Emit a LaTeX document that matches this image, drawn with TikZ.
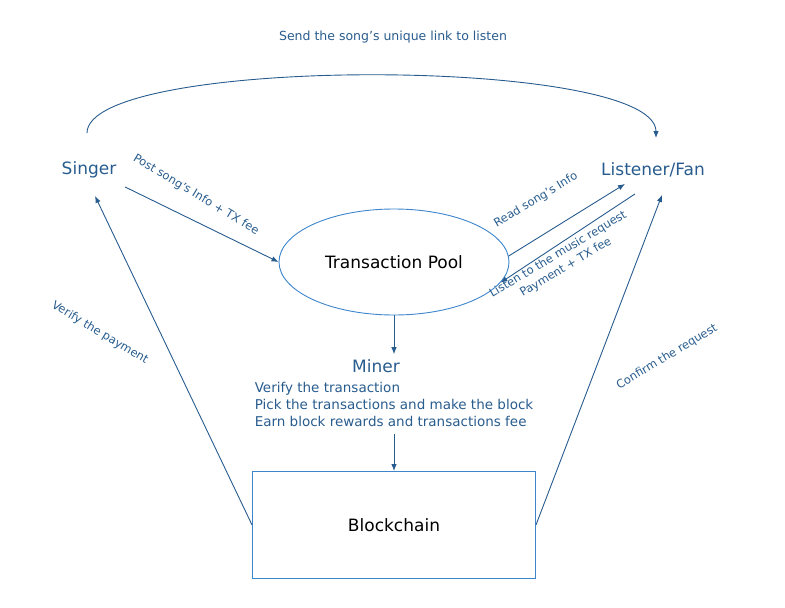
\documentclass[tikz,border=0pt]{standalone}
\usepackage{fontspec}
\setmainfont{DejaVu Sans}
\usetikzlibrary{arrows.meta,positioning,shapes.geometric,calc}
\definecolor{flowblue}{RGB}{40,92,142}
\definecolor{boxblue}{RGB}{62,134,204}
\tikzset{
  post/.style={->,>={Latex[length=7pt,width=5.5pt]},flowblue,line width=0.9pt},
}

\begin{document}
\begin{tikzpicture}[x=1pt,y=-1pt,
    actor/.style={inner sep=0pt,text=flowblue,font=\fontsize{17}{20}\selectfont},
    store/.style={draw=boxblue,line width=0.9pt,inner sep=0pt,font=\fontsize{17}{20}\selectfont},
    tasklist/.style={inner sep=0pt,align=left,text=flowblue,font=\fontsize{13.5}{17}\selectfont},
    edgetext/.style={inner sep=0pt,align=center,text=flowblue,font=\fontsize{11.5}{15}\selectfont},]
  \useasboundingbox (0,0) rectangle (785,608);

  \node[actor] (singer) at (89,170) {Singer};
  \node[actor] (fan) at (653,170) {Listener/Fan};
  \node[store, ellipse, minimum width=230, minimum height=106] (pool) at (394,262) {Transaction Pool};
  \node[actor] (miner) at (376,366) {Miner};
  \node[tasklist] (tasks) at (394,404) {Verify the transaction\\
    Pick the transactions and make the block\\Earn block rewards and transactions fee};
  \node[store, rectangle, minimum width=283, minimum height=107] (chain) at (394,525) {Blockchain};

  % song link goes straight to the fan
  \draw[post] ([shift={(-2,-28.5)}]singer.north) .. controls +(0,-78) and +(0,-82) ..
    ([shift={(3,-24.5)}]fan.north);
  \node[edgetext, font=\fontsize{12.5}{15}\selectfont] (sendlink) at (393,37) {Send the song's unique link to listen};

  \draw[post] ([shift={(36,8.5)}]singer.south) -- (pool.west);
  \draw[post] (pool.3) -- ([shift={(-28,6.5)}]fan.south);
  \draw[post] ([shift={(-18,16.5)}]fan.south) -- (pool.-11);
  \draw[post] (pool.south) -- ([shift={(0,-5)}]miner.north -| pool.south);
  \draw[post] ([shift={(0,8)}]tasks.south) -- (chain.north);
  \draw[post] (chain.west) -- ([shift={(6,17.5)}]singer.south);
  \draw[post] (chain.east) -- ([shift={(9,17.5)}]fan.south);

  \node[edgetext, rotate=-31] (postinfo) at (196,195) {Post song's Info + TX fee};
  \node[edgetext, rotate=31] (readinfo) at (536,200) {Read song's Info};
  \node[edgetext, rotate=31] (request) at (562,261) {Listen to the music request\\Payment + TX fee};
  \node[edgetext, rotate=-31] (verify) at (100,333) {Verify the payment};
  \node[edgetext, rotate=31] (confirm) at (667,357) {Confirm the request};
\end{tikzpicture}
\end{document}
